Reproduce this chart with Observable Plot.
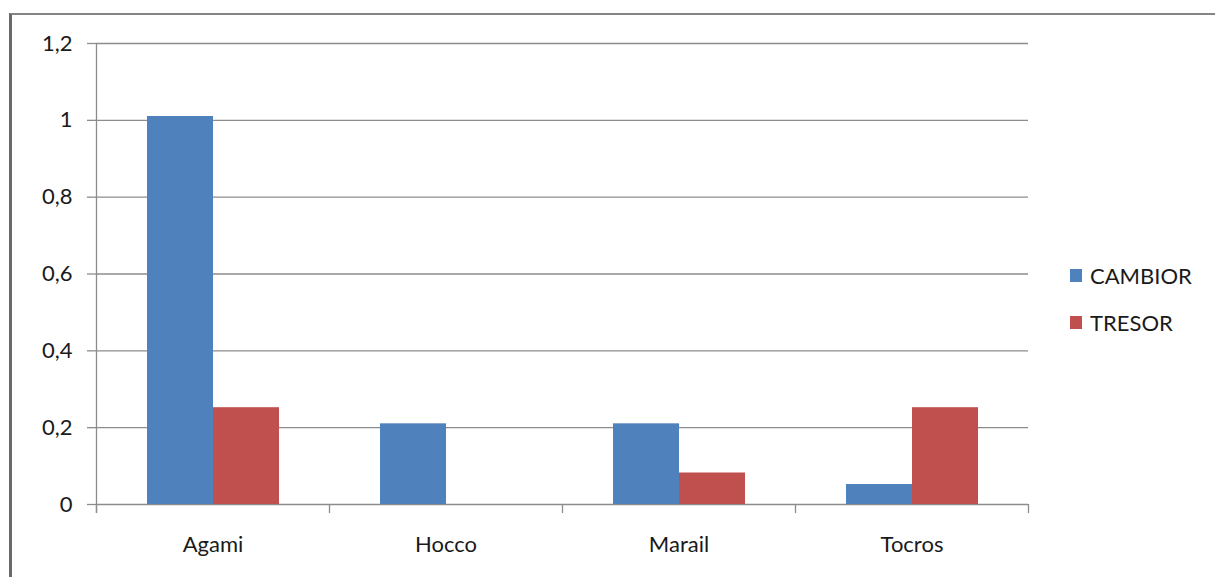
<!DOCTYPE html>
<html>
<head>
<meta charset="utf-8">
<script src="https://cdn.jsdelivr.net/npm/d3@7"></script>
<script src="https://cdn.jsdelivr.net/npm/@observablehq/plot@0.6"></script>
<style>
  html, body { margin: 0; padding: 0; background: #fff; }
  #wrap { position: relative; width: 1215px; height: 577px; overflow: hidden; font-family: Lato, "Open Sans", sans-serif; }
  #frame { position: absolute; left: 9px; top: 13px; width: 1300px; height: 700px; border-top: 2px solid #858585; border-left: 3px solid #6a6a6a; box-sizing: border-box; }
  #chart { position: absolute; left: 0; top: 0; }
  #legend { position: absolute; left: 1070px; top: 252px; font-size: 22px; color: #1a1a1a; }
  .item { display: flex; align-items: center; height: 47px; }
  .sw { width: 12px; height: 13px; margin-right: 8px; }
</style>
</head>
<body>
<div id="wrap">
  <div id="frame"></div>
  <div id="chart"></div>
  <div id="legend"></div>
</div>
<script>
const categories = ["Agami", "Hocco", "Marail", "Tocros"];
const series = ["CAMBIOR", "TRESOR"];
const cambior = [1.01, 0.21, 0.21, 0.052];
const tresor = [0.252, 0, 0.082, 0.252];
const colors = ["#4F81BD", "#C0504D"];
const yTicks = [0, 0.2, 0.4, 0.6, 0.8, 1, 1.2];
const yTickLabels = ["0", "0,2", "0,4", "0,6", "0,8", "1", "1,2"];

const data = [];
categories.forEach((c, i) => {
  data.push({cat: c, series: series[0], value: cambior[i]});
  data.push({cat: c, series: series[1], value: tresor[i]});
});

const W = 1215, H = 577;
const ml = 96, mr = 187, mt = 43, mb = 73;
const half = (W - ml - mr) / categories.length / 2;
const grid = "#8c8c8c";

const plot = Plot.plot({
  width: W,
  height: H,
  marginLeft: ml,
  marginRight: mr,
  marginTop: mt,
  marginBottom: mb,
  style: {fontFamily: "Lato, 'Open Sans', sans-serif", fontSize: "22px", color: "#1a1a1a", background: "transparent"},
  fx: {domain: categories, padding: 0, label: null},
  x: {domain: series, paddingInner: 0, paddingOuter: 0.75, axis: null},
  y: {domain: [0, 1.2], label: null},
  color: {domain: series, range: colors},
  marks: [
    Plot.gridY(yTicks, {stroke: grid, strokeOpacity: 1, strokeWidth: 1.3}),
    Plot.barY(data.filter(d => d.value > 0), {fx: "cat", x: "series", y: "value", fill: "series"}),
    Plot.axisY(yTicks, {
      tickSize: 9, tickPadding: 15, stroke: grid, strokeWidth: 1.3,
      tickFormat: (d) => yTickLabels[yTicks.indexOf(d)], label: null, fill: "#1a1a1a"
    }),
    Plot.axisFx({anchor: "bottom", tickSize: 0, tickPadding: 32, label: null, fill: "#1a1a1a"}),
    Plot.ruleX([categories[0]], {fx: d => d, x: null, y1: 1.2, y2: 0, insetBottom: -9, dx: -half, stroke: grid, strokeWidth: 1.3}),
    Plot.ruleX(categories, {fx: d => d, x: null, y1: 0, y2: 0, insetBottom: -9, dx: -half, stroke: grid, strokeWidth: 1.3}),
    Plot.ruleX([categories[categories.length - 1]], {fx: d => d, x: null, y1: 0, y2: 0, insetBottom: -9, dx: half, stroke: grid, strokeWidth: 1.3})
  ]
});
document.getElementById("chart").appendChild(plot);

const legend = document.getElementById("legend");
series.forEach((s, i) => {
  const item = document.createElement("div");
  item.className = "item";
  const sw = document.createElement("div");
  sw.className = "sw";
  sw.style.background = colors[i];
  const t = document.createElement("span");
  t.textContent = s;
  item.appendChild(sw);
  item.appendChild(t);
  legend.appendChild(item);
});
</script>
</body>
</html>
